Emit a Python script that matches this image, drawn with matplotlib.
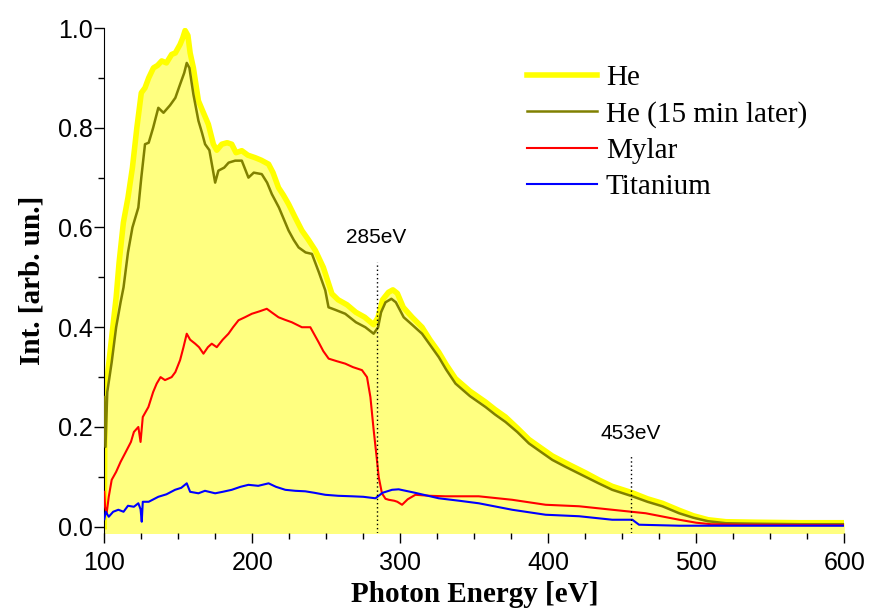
import numpy as np
import matplotlib
matplotlib.use('Agg')
import matplotlib.pyplot as plt
from matplotlib.ticker import MultipleLocator

# He (yellow, thick, filled)
he_x = [100, 100.5, 102, 105, 108, 110, 112.9, 116, 119, 122, 125, 127.5, 130, 133.2, 136, 138.8,
        142, 145.5, 148, 151.2, 153, 154.6, 156.5, 158, 160.2, 163.6, 167, 170.3, 173.7, 176,
        179.4, 183, 186.1, 189, 192.9, 197, 201.9, 206, 211, 214, 217.7, 221, 224.5, 229, 233.5,
        238, 242.6, 248, 253.8, 258, 264, 270, 276, 282, 285, 288, 292, 295, 298, 302, 308, 314.7,
        320, 326, 331, 337.3, 347, 357.6, 364, 371.1, 379, 386.9, 395, 402.7, 411.7, 425.2, 434,
        443.2, 456.8, 467, 477.1, 488.4, 498, 508, 520, 540, 570, 600]
he_y = [0.0, 0.28, 0.30, 0.38, 0.46, 0.53, 0.61, 0.66, 0.72, 0.80, 0.87, 0.88, 0.90, 0.92, 0.925, 0.934,
        0.93, 0.947, 0.95, 0.967, 0.98, 0.995, 0.985, 0.95, 0.92, 0.854, 0.83, 0.807, 0.767, 0.755,
        0.767, 0.77, 0.767, 0.75, 0.754, 0.745, 0.74, 0.735, 0.727, 0.71, 0.68, 0.665, 0.647, 0.62, 0.594,
        0.575, 0.554, 0.52, 0.467, 0.455, 0.445, 0.43, 0.42, 0.405, 0.42, 0.455, 0.47, 0.475, 0.468, 0.44, 0.42, 0.40,
        0.375, 0.35, 0.325, 0.297, 0.272, 0.25, 0.235, 0.22, 0.198, 0.175, 0.158, 0.142, 0.128, 0.108, 0.094,
        0.081, 0.068, 0.056, 0.047, 0.033, 0.022, 0.014, 0.010, 0.009, 0.008, 0.008]

# He (15 min later), olive
he2_x = [100.0, 100.8, 102, 105, 108, 111, 113, 116, 119, 123, 125, 127.5, 130, 133, 136.5, 140, 144.4,
         148, 151.2, 154, 155.7, 157.5, 160.2, 163.6, 166, 168.1, 171, 174.9, 177.1, 181, 184, 188.4,
         192.9, 197.4, 201, 206.4, 210, 213.2, 218, 224.5, 228, 231.3, 236, 240.3, 245, 249.3, 251.5,
         256, 262.8, 270, 276.4, 282, 285, 287, 290, 294, 297, 302.3, 308, 314.7, 320, 326, 331, 337.3,
         347, 357.6, 364, 371.1, 379, 386.9, 395, 402.7, 411.7, 425.2, 434, 443.2, 456.8, 467, 477.1,
         488.4, 498, 508, 520, 540, 570, 600]
he2_y = [0.26, 0.16, 0.27, 0.33, 0.40, 0.45, 0.48, 0.55, 0.60, 0.64, 0.70, 0.767, 0.77, 0.80, 0.84, 0.83, 0.845,
         0.86, 0.887, 0.91, 0.93, 0.92, 0.867, 0.814, 0.79, 0.767, 0.755, 0.69, 0.714, 0.72, 0.73, 0.734,
         0.734, 0.70, 0.71, 0.707, 0.69, 0.667, 0.64, 0.594, 0.575, 0.56, 0.55, 0.547, 0.51, 0.474, 0.44,
         0.435, 0.427, 0.41, 0.40, 0.387, 0.40, 0.43, 0.45, 0.457, 0.45, 0.42, 0.405, 0.387, 0.365, 0.34, 0.315, 0.287,
         0.262, 0.24, 0.225, 0.21, 0.19, 0.167, 0.15, 0.134, 0.12, 0.10, 0.087, 0.074, 0.061, 0.05, 0.041,
         0.027, 0.018, 0.011, 0.007, 0.006, 0.005, 0.005]

# Mylar, red
my_x = [100, 100.5, 101.6, 103, 105, 108, 111, 114, 118, 120, 123, 124.5, 126, 129.8, 133, 135.4, 138,
        141, 145.5, 148, 151.2, 153.5, 155.7, 158, 161.4, 164, 167, 170, 172.6, 176, 180, 183.9, 187,
        190.7, 195, 199.7, 205, 209.8, 213, 217.7, 222, 226.7, 233.5, 239.2, 242, 244.8, 248, 251.6, 257,
        262.8, 268, 274.1, 277.5, 279.8, 282, 284, 285.4, 287.6, 290, 292.2, 296, 298, 301.2, 305, 310.2,
        320, 330.5, 353, 375.6, 398.2, 420.8, 443.2, 465.8, 488.4, 500, 510, 530, 600]
my_y = [0.07, 0.04, 0.027, 0.06, 0.094, 0.11, 0.13, 0.147, 0.17, 0.19, 0.20, 0.17, 0.22, 0.24, 0.27, 0.287, 0.30,
        0.294, 0.30, 0.31, 0.334, 0.36, 0.387, 0.375, 0.367, 0.36, 0.347, 0.36, 0.367, 0.36, 0.375, 0.387, 0.40,
        0.414, 0.42, 0.427, 0.432, 0.437, 0.43, 0.42, 0.415, 0.41, 0.40, 0.40, 0.385, 0.37, 0.352, 0.337, 0.332,
        0.327, 0.32, 0.314, 0.30, 0.26, 0.194, 0.14, 0.10, 0.067, 0.056, 0.054, 0.052, 0.05, 0.044, 0.055, 0.064,
        0.062, 0.061, 0.061, 0.054, 0.044, 0.041, 0.034, 0.027, 0.014, 0.008, 0.005, 0.004, 0.003]

# Titanium, blue
ti_x = [100, 101, 103, 106, 109.5, 113, 116, 120, 123, 124.5, 125.3, 126, 130, 136.5, 142, 147.8, 152,
        155.7, 158, 163.6, 168, 174.9, 180, 186.1, 192, 197.4, 204, 211, 216, 222.3, 229, 235.8, 242,
        249.3, 258, 267.3, 275, 283.2, 288, 294.4, 298.9, 310, 326, 340, 353, 375.6, 398.2, 420.8, 443.2,
        456.8, 461.3, 488.4, 600]
ti_y = [0.015, 0.03, 0.02, 0.03, 0.034, 0.03, 0.042, 0.04, 0.047, 0.035, 0.01, 0.05, 0.05, 0.06, 0.065, 0.074, 0.078,
        0.087, 0.07, 0.067, 0.072, 0.067, 0.07, 0.074, 0.08, 0.084, 0.082, 0.087, 0.08, 0.074, 0.072, 0.071, 0.068,
        0.064, 0.062, 0.061, 0.06, 0.057, 0.068, 0.074, 0.075, 0.068, 0.057, 0.052, 0.047, 0.034, 0.024, 0.021, 0.014,
        0.014, 0.004, 0.002, 0.002]

# marked edges: (label, line position, line top, text y)
marks = [("285eV", 284, 0.53, 0.56), ("453eV", 456, 0.145, 0.168)]

fig = plt.figure(figsize=(8.75, 6.09), dpi=100)
ax = fig.add_axes([0.1192, 0.1248, 0.8457, 0.8292])

ax.fill_between(he_x, he_y, -0.02, color='#FFFF80', lw=0, zorder=1)
ax.plot(he_x, he_y, color='#FFFF00', lw=4, label='He', zorder=2)
ax.plot(he2_x, he2_y, color='#808000', lw=1.8, label='He (15 min later)', zorder=3)
ax.plot(my_x, my_y, color='#FF0000', lw=1.5, label='Mylar', zorder=4)
ax.plot(ti_x, ti_y, color='#0000FF', lw=1.5, label='Titanium', zorder=5)

for lab, xv, ytop, ytxt in marks:
    ax.plot([xv, xv], [-0.0126, ytop], color='black', lw=1, ls=(0, (1, 2)), zorder=6)
    ax.text(xv, ytxt, lab, ha='center', va='bottom', fontsize=15, family='Liberation Sans')

ax.set_xlim(100, 600)
ax.set_ylim(-0.0126, 1.0)
ax.spines['top'].set_visible(False)
ax.spines['right'].set_visible(False)
ax.spines['bottom'].set_visible(False)
ax.xaxis.set_major_locator(MultipleLocator(100))
ax.xaxis.set_minor_locator(MultipleLocator(25))
ax.yaxis.set_major_locator(MultipleLocator(0.2))
ax.yaxis.set_minor_locator(MultipleLocator(0.1))
ax.tick_params(which='major', direction='out', length=7, width=1, labelsize=18)
ax.tick_params(which='minor', direction='out', length=4, width=1)
ax.tick_params(axis='x', which='major', pad=6)
ax.tick_params(axis='y', which='major', pad=1)
ax.set_yticks([0, 0.2, 0.4, 0.6, 0.8, 1.0])
ax.set_yticklabels(['0.0', '0.2', '0.4', '0.6', '0.8', '1.0'])
for t in ax.get_xticklabels() + ax.get_yticklabels():
    t.set_family('Liberation Sans')

ax.set_xlabel('Photon Energy [eV]', fontsize=21, fontweight='bold', family='Liberation Serif', labelpad=4)
ax.set_ylabel('Int. [arb. un.]', fontsize=21, fontweight='bold', family='Liberation Serif', labelpad=9)

ax.legend(loc='upper left', bbox_to_anchor=(527 / 875, 1 - 65 / 609), bbox_transform=fig.transFigure,
          frameon=False, handlelength=2.4, borderpad=0, borderaxespad=0,
          prop={'family': 'Liberation Serif', 'size': 21}, labelspacing=0.33, handletextpad=0.3)

fig.savefig('out.png', dpi=100)
